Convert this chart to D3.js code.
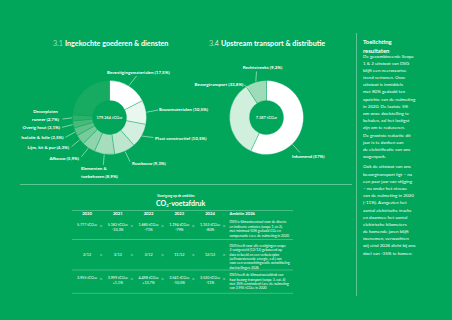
<!DOCTYPE html>
<html>
<head>
<meta charset="utf-8">
<script src="https://cdn.jsdelivr.net/npm/d3@7"></script>
<style>
  html, body { margin: 0; padding: 0; background: #01a65b; }
  svg { display: block; font-family: Lato, "Noto Sans", sans-serif; }
</style>
</head>
<body>
<div id="chart"></div>
<script>
// Data
const purchasedCategories = ['Bevestigingsmaterialen', 'Bouwmaterialen', 'Plaat constructief', 'Ruwbouw',
  'Elementen & toebehoren', 'Afbouw', 'Lijm, kit & pur', 'Isolatie & folie', 'Overig hout', 'Decorplaten runner', 'Overig'];
const purchasedShares = [17.5, 10.5, 10.5, 9.3, 8.9, 5.9, 4.3, 3.5, 3.1, 2.7, 23.8];
const purchasedTotal = '179.264 tCO₂e';

const transportCategories = ['Inkomend', 'Bezorgtransport', 'Rechtstreeks'];
const transportShares = [57, 33.8, 9.2];
const transportTotal = '7.387 tCO₂e';

const tableYears = ['2020', '2021', '2022', '2023', '2024'];
const scope12Values = ['5.777 tCO₂e', '5.182 tCO₂e', '1.680 tCO₂e', '1.194 tCO₂e', '1.152 tCO₂e'];
const scope12Change = ['', '-10,3%', '-71%', '-79%', '-80%'];
const scope2Sites = ['2/12', '3/12', '3/12', '11/12', '12/12'];
const deliveryValues = ['3.955 tCO₂e', '3.999 tCO₂e', '4.498 tCO₂e', '3.541 tCO₂e', '3.520 tCO₂e'];
const deliveryChange = ['', '+1,1%', '+13,7%', '-10,5%', '-11%'];
const ambitionTexts = [
  ['DSG is klimaatneutraal voor de directe', 'en indirecte emissies (scope 1 en 2),', 'met minimaal 50% gedaald CO₂ en', 'compensatie t.o.v. de nulmeting in 2020'],
  ['DSG heeft voor alle vestigingen scope', '2 vastgesteld (12/12) gebaseerd op', 'data in beeld en een verbeterplan', '(zelfvoorzienende energie, e.d.) van', 'voor een verwachtingsvolle ontwikkeling', 'doelstellingen 2026'],
  ['DSG heeft de klimaatvoetafdruk van', 'haar bezorg transport (scope 3, cat. 4)', 'met 35% verminderd t.o.v. de nulmeting', 'van 3.955 tCO₂e in 2020']
];

const notesTitle = ['Toelichting', 'resultaten'];
const notesPara1 = ['De gecombineerde Scope', '1 & 2 uitstoot van DSG', 'blijft een neerwaartse', 'trend vertonen. Onze',
  'uitstoot is inmiddels', 'met 80% gedaald ten', 'opzichte van de nulmeting', 'in 2020. De laatste 5%',
  'om onze doelstelling te', 'behalen, zal het lastigst', 'zijn om te reduceren.', 'De grootste reductie dit',
  'jaar is te danken aan', 'de elektrificatie van ons', 'wagenpark.'];
const notesPara2 = ['Ook de uitstoot van ons', 'bezorgtransport ligt – na', 'een paar jaar van stijging',
  '– nu onder het niveau', 'van de nulmeting in 2020', '(-11%). Aangezien het', 'aantal elektrische trucks',
  'en daarmee het aantal', 'elektrische kilometers', 'de komende jaren blijft', 'toenemen, verwachten',
  'wij eind 2026 dicht bij ons', 'doel van -35% te komen.'];

// Layout / style
const width = 452, height = 320;
const bg = '#01a65b';
const ruleColor = 'rgba(255,255,255,0.45)';
const purchasedColors = ['#ffffff', '#e9f7ef', '#d3efdf', '#bce6cd', '#a5ddbd', '#8ed4ac', '#77cb9b', '#60c28a', '#48b97a', '#30b06a', '#17ab62'];
const transportColors = ['#ffffff', '#d0efdd', '#9edbb8'];

// label placement for each slice (x, y text; lx, ly leader end)
const purchasedLabelLayout = [
  { x: 107, y: 72, anchor: 'start', lx: 136.5, ly: 76 },
  { x: 159, y: 109.5, anchor: 'start', lx: 158, ly: 110 },
  { x: 155, y: 138, anchor: 'start', lx: 153.5, ly: 137.5 },
  { x: 132, y: 163.5, anchor: 'start', lx: 130, ly: 161.5 },
  { x: 81, y: 168, anchor: 'start', lx: 103.3, ly: 165, split: 2 },
  { x: 79, y: 158, anchor: 'end', lx: 81.5, ly: 156.7 },
  { x: 69, y: 147, anchor: 'end', lx: 71.5, ly: 146.7 },
  { x: 63.5, y: 137, anchor: 'end', lx: 65.5, ly: 137.3 },
  { x: 60, y: 127, anchor: 'end', lx: 62, ly: 127.3 },
  { x: 45.5, y: 111, anchor: 'middle', lx: 62.5, ly: 119, split: 1 },
  null
];
const transportLabelLayout = [
  { x: 292, y: 156, anchor: 'start', lx: 300, ly: 152.5, angle: 136 },
  { x: 243.3, y: 84, anchor: 'end', lx: 244, ly: 84.8, angle: 329, r: 34 },
  { x: 262.5, y: 67.7, anchor: 'middle', lx: 256.5, ly: 71.5 }
];

const svg = d3.select('#chart').append('svg')
  .attr('width', width)
  .attr('height', height);

svg.append('rect').attr('width', width).attr('height', height).attr('fill', bg);

function pct(v) {
  return String(v).replace('.', ',') + '%';
}

function drawDonut(cx, cy, names, shares, colors, layout, total) {
  const outer = 37, inner = 17;
  const g = svg.append('g').attr('transform', `translate(${cx},${cy})`);
  const items = names.map((n, i) => ({ name: n, share: shares[i], color: colors[i], layout: layout[i] }));
  const pie = d3.pie().sort(null).value(d => d.share);
  const arc = d3.arc().innerRadius(inner).outerRadius(outer);
  const arcs = pie(items);

  g.selectAll('path.slice')
    .data(arcs)
    .enter().append('path')
    .attr('class', 'slice')
    .attr('d', arc)
    .attr('fill', d => d.data.color)
    .attr('stroke', bg)
    .attr('stroke-width', 0.35);

  const labelled = arcs.filter(d => d.data.layout);

  // leader lines
  const leaderAngle = d => d.data.layout.angle != null ? d.data.layout.angle * Math.PI / 180 : (d.startAngle + d.endAngle) / 2;
  g.selectAll('line.leader')
    .data(labelled)
    .enter().append('line')
    .attr('class', 'leader')
    .attr('x1', d => Math.sin(leaderAngle(d)) * (d.data.layout.r || outer + 0.5))
    .attr('y1', d => -Math.cos(leaderAngle(d)) * (d.data.layout.r || outer + 0.5))
    .attr('x2', d => d.data.layout.lx - cx)
    .attr('y2', d => d.data.layout.ly - cy)
    .attr('stroke', '#ffffff')
    .attr('stroke-width', 0.5);

  // labels
  labelled.forEach(d => {
    const L = d.data.layout;
    const full = `${d.data.name} (${pct(d.data.share)})`;
    let lines = [full];
    if (L.split) {
      const words = full.split(' ');
      lines = [words.slice(0, L.split).join(' '), words.slice(L.split).join(' ')];
    }
    const t = g.append('text')
      .attr('x', L.x - cx)
      .attr('y', L.y - cy)
      .attr('text-anchor', L.anchor)
      .attr('fill', '#ffffff')
      .attr('font-size', 4.5)
      .attr('font-weight', 700);
    lines.forEach((s, i) => {
      t.append('tspan').attr('x', L.x - cx).attr('dy', i === 0 ? '0.35em' : '1.78em').text(s);
    });
  });

  g.append('text')
    .attr('y', 1.4)
    .attr('text-anchor', 'middle')
    .attr('fill', '#ffffff')
    .attr('font-size', 3.9)
    .attr('font-weight', 600)
    .text(total);
}

// titles
function title(x, y, num, rest) {
  const t = svg.append('text').attr('x', x).attr('y', y).attr('fill', '#ffffff').attr('font-size', 7.2);
  t.append('tspan').attr('font-weight', 300).text(num + ' ');
  t.append('tspan').attr('font-weight', 700).text(rest);
}
title(53, 45.5, '3.1', 'Ingekochte goederen & diensten');
title(209, 45.5, '3.4', 'Upstream transport & distributie');

drawDonut(109.5, 117.5, purchasedCategories, purchasedShares, purchasedColors, purchasedLabelLayout, purchasedTotal);
drawDonut(266.5, 117.5, transportCategories, transportShares, transportColors, transportLabelLayout, transportTotal);

// divider lines
svg.append('line').attr('x1', 20).attr('x2', 352).attr('y1', 184.5).attr('y2', 184.5)
  .attr('stroke', ruleColor).attr('stroke-width', 0.8);
svg.append('line').attr('x1', 356.5).attr('x2', 356.5).attr('y1', 33).attr('y2', 296)
  .attr('stroke', ruleColor).attr('stroke-width', 0.8);

// notes column
const notes = svg.append('g').attr('fill', '#ffffff');
notes.selectAll('text.nt')
  .data(notesTitle)
  .enter().append('text')
  .attr('class', 'nt')
  .attr('x', 363)
  .attr('y', (d, i) => 41.7 + i * 9.6)
  .attr('dy', '0.35em')
  .attr('font-size', 5.9)
  .attr('font-weight', 700)
  .text(d => d);

const lineH = 7.18;
notes.selectAll('text.p1')
  .data(notesPara1)
  .enter().append('text')
  .attr('class', 'p1')
  .attr('x', 363)
  .attr('y', (d, i) => 56 + i * lineH)
  .attr('dy', '0.35em')
  .attr('font-size', 4.55)
  .text(d => d);
notes.selectAll('text.p2')
  .data(notesPara2)
  .enter().append('text')
  .attr('class', 'p2')
  .attr('x', 363)
  .attr('y', (d, i) => 166.9 + i * lineH)
  .attr('dy', '0.35em')
  .attr('font-size', 4.55)
  .text(d => d);

// table
const tbl = svg.append('g').attr('fill', '#ffffff');
tbl.append('text').attr('x', 157).attr('y', 195.7).attr('dy', '0.35em')
  .attr('font-size', 3.3).attr('font-weight', 700).text('Voortgang op de ambities');
const co2 = tbl.append('text').attr('x', 156).attr('y', 203.8).attr('dy', '0.35em')
  .attr('font-size', 7).attr('font-weight', 700);
co2.append('tspan').text('CO');
co2.append('tspan').attr('font-size', 4).attr('dy', '1.2').text('2');
co2.append('tspan').attr('dy', '-1.2').text('-voetafdruk');

const xCol = d3.scalePoint().domain(tableYears).range([87, 210]);
const ambX = 229.5;
const ruleYs = [210.5, 239.5, 270, 293.3];

tbl.selectAll('line.rule')
  .data(ruleYs)
  .enter().append('line')
  .attr('class', 'rule')
  .attr('x1', 72).attr('x2', 293)
  .attr('y1', d => d).attr('y2', d => d)
  .attr('stroke', ruleColor).attr('stroke-width', 0.6);

tbl.selectAll('text.head')
  .data(tableYears)
  .enter().append('text')
  .attr('class', 'head')
  .attr('x', d => xCol(d))
  .attr('y', 214)
  .attr('dy', '0.35em')
  .attr('text-anchor', 'middle')
  .attr('font-size', 4.2)
  .attr('font-weight', 700)
  .text(d => d);
tbl.append('text').attr('x', ambX).attr('y', 214).attr('dy', '0.35em')
  .attr('font-size', 4.2).attr('font-weight', 700).text('Ambitie 2026');

const rows = [
  { values: scope12Values, change: scope12Change, y: 225, amb: ambitionTexts[0], ambY: 222.3 },
  { values: scope2Sites, change: null, y: 254.5, amb: ambitionTexts[1], ambY: 245.7 },
  { values: deliveryValues, change: deliveryChange, y: 278, amb: ambitionTexts[2], ambY: 275.2 }
];

rows.forEach(row => {
  tbl.selectAll(null)
    .data(tableYears)
    .enter().append('text')
    .attr('x', d => xCol(d))
    .attr('y', row.y)
    .attr('dy', '0.35em')
    .attr('text-anchor', 'middle')
    .attr('font-size', 3.7)
    .text((d, i) => row.values[i]);
  if (row.change) {
    tbl.selectAll(null)
      .data(tableYears)
      .enter().append('text')
      .attr('x', d => xCol(d))
      .attr('y', row.y + 4.6)
      .attr('dy', '0.35em')
      .attr('text-anchor', 'middle')
      .attr('font-size', 3.7)
      .text((d, i) => row.change[i]);
  }
  const chevY = row.change ? row.y + 1 : row.y;
  tbl.selectAll(null)
    .data(tableYears)
    .enter().append('text')
    .attr('x', d => xCol(d) + 14)
    .attr('y', chevY)
    .attr('dy', '0.35em')
    .attr('text-anchor', 'middle')
    .attr('font-size', 6.5)
    .attr('font-weight', 300)
    .text('>');
  tbl.selectAll(null)
    .data(row.amb)
    .enter().append('text')
    .attr('x', ambX)
    .attr('y', (d, i) => row.ambY + i * 4.35)
    .attr('dy', '0.35em')
    .attr('font-size', 3.4)
    .text(d => d);
});
</script>
</body>
</html>
